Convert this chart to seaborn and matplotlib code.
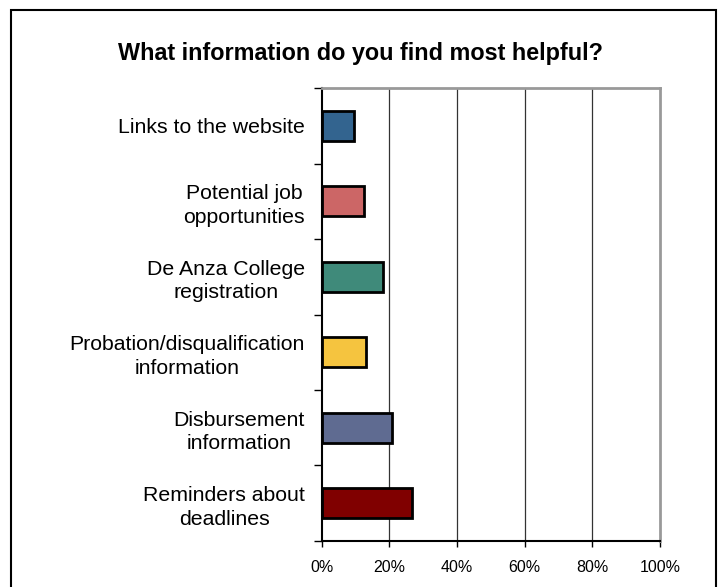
import matplotlib
matplotlib.use("Agg")
import matplotlib.pyplot as plt
import seaborn as sns
import pandas as pd
from matplotlib.patches import Rectangle
from matplotlib.ticker import FixedLocator

categories = [
    "Links to the website",
    "Potential job\nopportunities",
    "De Anza College\nregistration",
    "Probation/disqualification\ninformation",
    "Disbursement\ninformation",
    "Reminders about\ndeadlines",
]
shares = [9.6, 12.5, 18.2, 13.0, 20.7, 26.6]
bar_colors = ["#33648F", "#CC6666", "#3F8A7A", "#F5C43F", "#5F6B91", "#800000"]
x_ticks = [0, 20, 40, 60, 80, 100]
x_tick_labels = ["0%", "20%", "40%", "60%", "80%", "100%"]

sns.set_theme(style="white")
plt.rcParams["font.family"] = ["Liberation Sans", "DejaVu Sans"]
plt.rcParams["text.color"] = "black"
plt.rcParams["xtick.color"] = "black"
plt.rcParams["ytick.color"] = "black"

df = pd.DataFrame({"category": categories, "share": shares})

fig = plt.figure(figsize=(7.22, 5.87), dpi=100)
ax = fig.add_axes([0.4456, 0.0784, 0.4685, 0.7716])

sns.barplot(data=df, x="share", y="category", hue="category",
            palette=bar_colors, saturation=1, orient="h", width=0.4,
            edgecolor="black", linewidth=2, legend=False, ax=ax)

ax.set_xlim(0, 100)
ax.set_ylim(len(categories) - 0.5, -0.5)
ax.set_xticks(x_ticks)
ax.set_xticklabels(x_tick_labels, fontsize=11.5, color="black")
ax.set_xlabel("")
ax.set_ylabel("")

ax.set_yticks(range(len(categories)))
ax.set_yticklabels(categories, fontsize=15.3, multialignment="center",
                   linespacing=1.3, color="black")
ax.tick_params(axis="y", which="major", length=0, pad=12)
ax.yaxis.set_minor_locator(FixedLocator([i + 0.5 for i in range(-1, len(categories))]))
ax.tick_params(axis="y", which="minor", left=True, length=6, width=1, color="black")
ax.tick_params(axis="x", which="major", bottom=True, length=4, width=1,
               color="black", pad=10)

for xv in x_ticks[1:-1]:
    ax.axvline(xv, color="#333333", linewidth=0.9, zorder=0)

ax.spines["left"].set_color("black")
ax.spines["left"].set_linewidth(1.5)
ax.spines["bottom"].set_color("black")
ax.spines["bottom"].set_linewidth(1.5)
ax.spines["top"].set_color("#999999")
ax.spines["top"].set_linewidth(2)
ax.spines["right"].set_color("#999999")
ax.spines["right"].set_linewidth(2)

fig.text(0.5, 0.909, "What information do you find most helpful?",
         ha="center", va="center", fontsize=16.8, fontweight="bold", color="black")

# outer frame around the chart area
fig.patches.append(Rectangle((11 / 722, -0.05), (716 - 11) / 722, 1.05 - 10 / 587,
                             transform=fig.transFigure, fill=False,
                             edgecolor="black", linewidth=1.5))

fig.savefig("out.png", dpi=100, facecolor="white")
